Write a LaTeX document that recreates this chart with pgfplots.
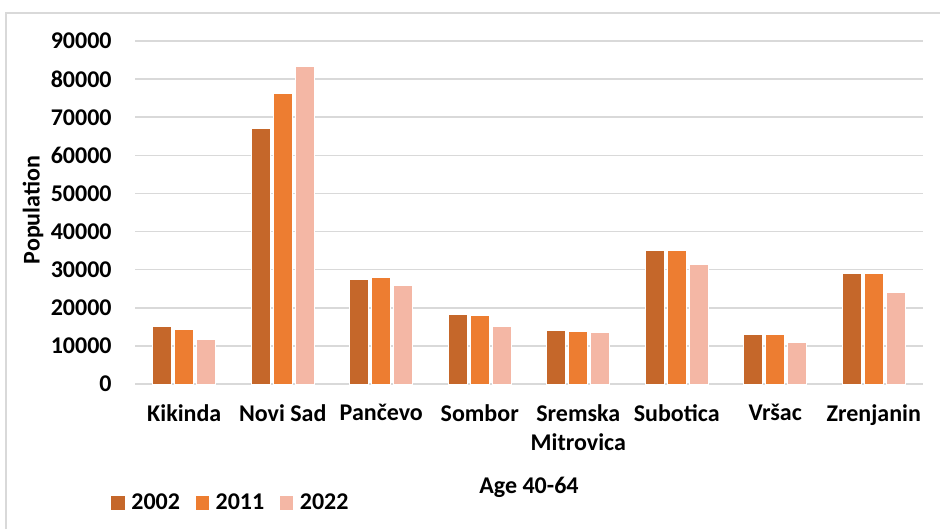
\documentclass[border=0pt]{standalone}
\usepackage{fontspec}
\setmainfont{Carlito}
\usepackage{pgfplots}
\pgfplotsset{compat=1.18}
\definecolor{c2002}{HTML}{C5672A}
\definecolor{c2011}{HTML}{ED7D31}
\definecolor{c2022}{HTML}{F4B7A5}
\definecolor{gridgray}{HTML}{D9D9D9}
\newcommand{\chartfont}{\bfseries\fontsize{12}{14.5}\selectfont}

\begin{document}
\begin{tikzpicture}
\useasboundingbox (0pt,0pt) rectangle (470pt,-264.5pt);
% chart frame
\draw[gridgray, line width=0.8pt] (3pt,-264.5pt) -- (3pt,-6.5pt) -- (470pt,-6.5pt);
\begin{axis}[
  at={(67.5pt,-192pt)}, anchor=south west,
  scale only axis, width=394pt, height=171.5pt,
  xmin=-0.5, xmax=7.5, ymin=0, ymax=90000,
  ytick={0,10000,...,90000},
  xtick={0,...,7},
  xticklabels={Kikinda, Novi Sad, Pančevo, Sombor, {Sremska\\Mitrovica}, Subotica, Vršac, Zrenjanin},
  xticklabel style={align=center, anchor=north, inner sep=0pt, yshift=-10pt, font=\chartfont},
  yticklabel style={anchor=east, inner sep=0pt, xshift=-11.5pt, font=\chartfont},
  /pgf/number format/assume math mode=true,
  scaled y ticks=false,
  yticklabel={\pgfmathprintnumber[fixed,1000 sep={}]{\tick}},
  axis line style={draw=none},
  major tick length=0pt,
  ymajorgrids, grid style={gridgray, line width=0.8pt},
  legend style={at={(rel axis cs:-0.0305,-0.347)}, anchor=west, draw=none, fill=none,
    font=\chartfont, inner sep=0pt, legend columns=3,
    nodes={inner sep=0pt},
    /tikz/every odd column/.style={column sep=3.2pt},
    /tikz/every even column/.style={column sep=7.8pt}},
  legend image code/.code={\fill[#1, draw=none] (0pt,-3.4pt) rectangle (6.8pt,3.4pt);},
  clip=false,
]
\addplot[ybar, bar width=0.19, bar shift=-0.224, fill=c2002, draw=white, line width=0.5pt]
  coordinates {(0,15000) (1,67000) (2,27500) (3,18300) (4,14100) (5,35000) (6,13100) (7,28900)};
\addplot[ybar, bar width=0.19, bar shift=0, fill=c2011, draw=white, line width=0.5pt]
  coordinates {(0,14400) (1,76100) (2,27900) (3,17900) (4,13700) (5,35000) (6,13100) (7,28900)};
\addplot[ybar, bar width=0.19, bar shift=0.224, fill=c2022, draw=white, line width=0.5pt]
  coordinates {(0,11700) (1,83400) (2,25800) (3,15100) (4,13400) (5,31300) (6,11000) (7,24000)};
\legend{2002, 2011, 2022}
\end{axis}
\node[rotate=90, font=\chartfont] at (16.5pt,-105pt) {Population};
\node[font=\chartfont] at (264.5pt,-243.5pt) {Age 40-64};
\end{tikzpicture}
\end{document}
